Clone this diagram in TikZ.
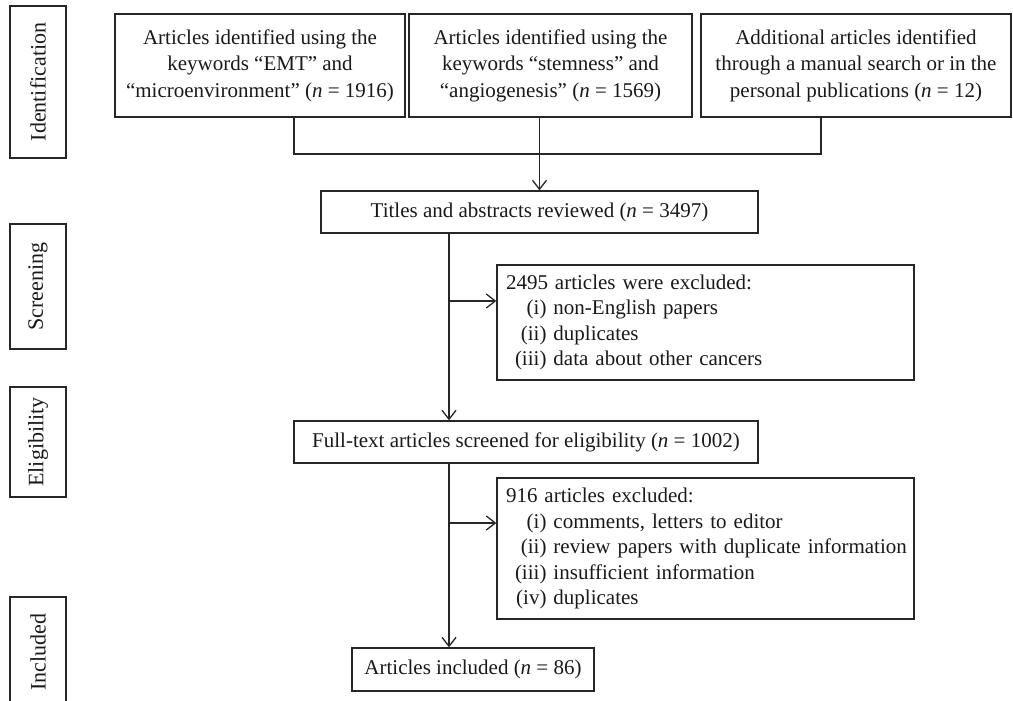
\documentclass[tikz,border=0pt]{standalone}
\usepackage{fontspec}
\setmainfont{Liberation Serif}
\usetikzlibrary{arrows.meta}
\begin{document}
\begin{tikzpicture}[
        x=1pt, y=-1pt,
        box/.style={draw=black!85, line width=1.3pt, inner sep=0pt, align=center, text=black!90, font=\fontsize{21}{26.5}\selectfont},
        phase/.style={box, rotate=90, minimum height=56pt, font=\fontsize{22}{26.5}\selectfont},
        exclbox/.style={box, align=left, text width=399pt, minimum width=417pt, font=\fontsize{21}{25.5}\selectfont},
        link/.style={draw=black!85, line width=1.3pt},
        flow/.style={link, -{Straight Barb[length=9pt,width=14pt]}}
    ]
        \useasboundingbox (0,0) rectangle (1013,701);

        % Phase labels on the left
        \foreach \y/\h/\lbl [count=\i] in {82/152/Identification, 286.5/125/Screening, 442/110/Eligibility, 652/110/Included} {
            \node[phase, minimum width=\h pt] (ph\i) at (38,\y) {\lbl};
        }

        % Sources
        \node[box, minimum width=290pt, minimum height=103pt] (src1) at (260,65.5)
            {Articles identified using the\\ keywords “EMT” and\\ “microenvironment” (\textit{n} = 1916)};
        \node[box, minimum width=283pt, minimum height=103pt] (src2) at (550.5,65.5)
            {Articles identified using the\\ keywords “stemness” and\\ “angiogenesis” (\textit{n} = 1569)};
        \node[box, minimum width=310pt, minimum height=103pt] (src3) at (856,65.5)
            {Additional articles identified\\ through a manual search or in the\\ personal publications (\textit{n} = 12)};

        % Main steps
        \node[box, minimum width=437pt, minimum height=42pt] (titles) at (539.5,212)
            {Titles and abstracts reviewed (\textit{n} = 3497)};
        \node[box, minimum width=464pt, minimum height=42pt] (full) at (526,442)
            {Full-text articles screened for eligibility (\textit{n} = 1002)};
        \node[box, minimum width=242pt, minimum height=43pt] (incl) at (473,669.5)
            {Articles included (\textit{n} = 86)};

        % Exclusions
        \node[exclbox, minimum height=115pt] (excl1) at (705.5,322.5) {%
            \begin{tabular}{@{\hspace{9pt}}r@{\ }l@{}}
                \multicolumn{2}{@{}l}{2495 articles were excluded:}\\
                (i) & non-English papers\\
                (ii) & duplicates\\
                (iii) & data about other cancers
            \end{tabular}};
        \node[exclbox, minimum height=141pt] (excl2) at (705.5,548.5) {%
            \begin{tabular}{@{\hspace{9pt}}r@{\ }l@{}}
                \multicolumn{2}{@{}l}{916 articles excluded:}\\
                (i) & comments, letters to editor\\
                (ii) & review papers with duplicate information\\
                (iii) & insufficient information\\
                (iv) & duplicates
            \end{tabular}};

        % Connectors
        \coordinate (barL) at (294,154);
        \coordinate (barR) at (821,154);
        \coordinate (spine) at (449,0);
        \coordinate (br1) at (449,301);
        \coordinate (br2) at (449,523);

        \draw[link] (src1.south -| barL) -- (barL) -- (barR) -- (src3.south -| barR);
        \draw[flow] (src2.south -| titles.north) -- (titles.north);
        \draw[flow] (titles.south -| spine) -- (full.north -| spine);
        \draw[flow] (full.south -| spine) -- (incl.north -| spine);
        \draw[flow] (br1) -- (br1 -| excl1.west);
        \draw[flow] (br2) -- (br2 -| excl2.west);
    \end{tikzpicture}
\end{document}
